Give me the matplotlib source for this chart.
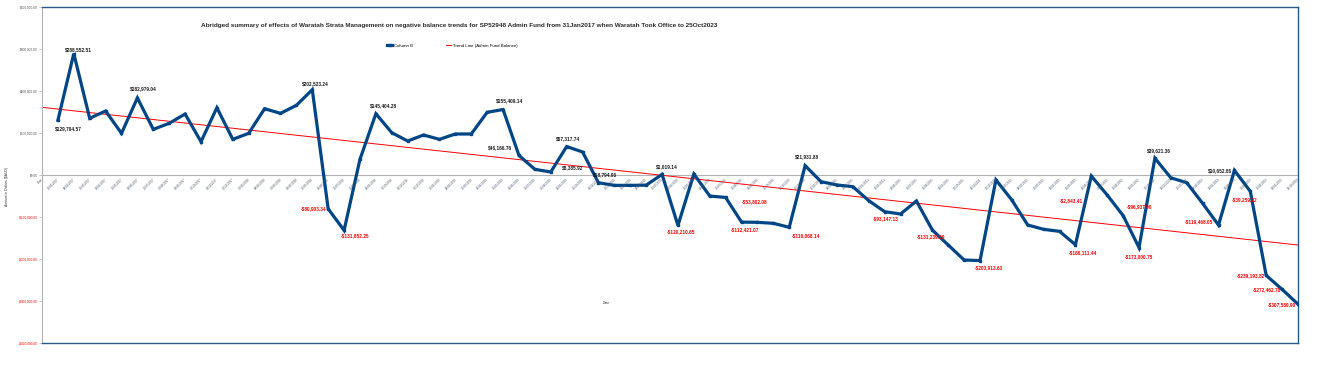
import matplotlib
matplotlib.use("Agg")
import matplotlib.pyplot as plt
from matplotlib.lines import Line2D

plt.rcParams['font.family'] = ['Liberation Sans', 'DejaVu Sans']

title = ("Abridged summary of effects of Waratah Strata Management on negative balance trends "
         "for SP52948 Admin Fund from 31Jan2017 when Waratah Took Office to 25Oct2023")

dates = [
    "31/01/2017", "28/02/2017", "31/03/2017", "30/04/2017", "31/05/2017", "30/06/2017",
    "31/07/2017", "31/08/2017", "30/09/2017", "31/10/2017", "30/11/2017", "31/12/2017",
    "31/01/2018", "28/02/2018", "31/03/2018", "30/04/2018", "31/05/2018", "30/06/2018",
    "31/07/2018", "31/08/2018", "30/09/2018", "31/10/2018", "30/11/2018", "31/12/2018",
    "31/01/2019", "28/02/2019", "31/03/2019", "30/04/2019", "31/05/2019", "30/06/2019",
    "31/07/2019", "31/08/2019", "30/09/2019", "31/10/2019", "30/11/2019", "31/12/2019",
    "31/01/2020", "29/02/2020", "31/03/2020", "30/04/2020", "31/05/2020", "30/06/2020",
    "31/07/2020", "31/08/2020", "30/09/2020", "31/10/2020", "30/11/2020", "31/12/2020",
    "31/01/2021", "28/02/2021", "31/03/2021", "30/04/2021", "31/05/2021", "30/06/2021",
    "31/07/2021", "31/08/2021", "30/09/2021", "31/10/2021", "30/11/2021", "31/12/2021",
    "31/01/2022", "28/02/2022", "31/03/2022", "30/04/2022", "31/05/2022", "30/06/2022",
    "31/07/2022", "31/08/2022", "30/09/2022", "31/10/2022", "30/11/2022", "31/12/2022",
    "28/02/2023", "30/04/2023", "30/06/2023", "31/07/2023", "31/08/2023", "30/09/2023",
    "25/10/2023",
]

balance = [
    129704.57, 288552.51, 134500, 151900, 98800, 182979.04, 108300, 122600, 144700, 78900,
    159700, 84500, 98800, 157400, 146300, 165400, 202523.24, -80903.34, -131852.25, 37000,
    145404.28, 100300, 80500, 94800, 84500, 97200, 97200, 148800, 155409.14, 46166.76,
    13200, 6800, 67317.74, 54400, -18794.96, -25000, -25000, -24500, 1019.14, -120210.65,
    2000, -50300, -53802.08, -112421.07, -112900, -115300, -124800, 21931.88, -16200, -24100,
    -28100, -61400, -87600, -93147.13, -62200, -131239.59, -166900, -202600, -203913.63, -12000,
    -59800, -119300, -129600, -134400, -166111.44, -2843.41, -48000, -96937.00, -173000.75, 39621.36,
    -7000, -18600, -67800, -119468.05, 10652.86, -39259.22, -239193.82, -272462.78, -307580.90,
]

trend_start = 160600
trend_end = -166900

y_ticks = [-400000, -300000, -200000, -100000, 0, 100000, 200000, 300000, 400000]

# data labels: (point number, text)
label_points = [1, 2, 6, 17, 18, 19, 21, 29, 30, 33, 34, 35, 39, 40, 43, 44, 47, 48, 54, 56,
                59, 65, 66, 68, 69, 70, 74, 75, 76, 77, 78, 79]
label_texts = ["$129,704.57", "$288,552.51", "$182,979.04", "$202,523.24", "-$80,903.34",
               "-$131,852.25", "$145,404.28", "$155,409.14", "$46,166.76", "$67,317.74",
               "$8,385.92", "$18,794.96", "$1,019.14", "-$120,210.65", "-$53,802.08",
               "-$112,421.07", "-$116,068.14", "$21,931.88", "-$93,147.13", "-$131,239.59",
               "-$203,913.63", "-$166,111.44", "-$2,843.41", "-$96,937.00", "-$173,000.75",
               "$39,621.36", "-$119,468.05", "$10,652.86", "-$39,259.22", "-$239,193.82",
               "-$272,462.78", "-$307,580.90"]
# label offsets in image pixels (dx right, dy down)
label_offsets = [(10, 8), (5, -4), (6, -9), (3, -6), (-15, 0), (11, 5), (8, -8), (6, -9),
                 (-19, -8), (1, -8), (-10, 16), (7, -8), (5, -8), (3, 6), (29, 4), (3, 8),
                 (17, 8), (2, -9), (-15, 5), (-1, 7), (9, 7), (8, 8), (-20, 25), (16, -9),
                 (0, 9), (4, -8), (-20, -3), (-14, 0), (-6, 8), (-15, 0), (-15, 0), (-16, 0)]

W, H = 1317, 380
fig = plt.figure(figsize=(W / 100, H / 100), dpi=100)
ax = fig.add_axes([42 / W, (H - 343) / H, 1256 / W, 336.3 / H])

navy = '#004586'
x = list(range(1, len(balance) + 1))
ax.plot(x, balance, color=navy, lw=2.3, marker='s', ms=1.6, zorder=3, solid_joinstyle='miter')
ax.plot([0, len(balance)], [trend_start, trend_end], color='#ff0000', lw=0.7, zorder=2)
ax.axhline(0, color='#b3b3b3', lw=0.8, zorder=1)

ax.set_xlim(0, len(balance))
ax.set_ylim(-400000, 400000)

for s in ['top', 'right', 'bottom']:
    ax.spines[s].set_color('#2a5a8c')
    ax.spines[s].set_linewidth(1.0)
ax.spines['left'].set_color('#b3b3b3')
ax.spines['left'].set_linewidth(0.8)

ax.set_yticks(y_ticks)
ylabels = []
for v in y_ticks:
    if v < 0:
        ylabels.append("-${:,.2f}".format(-v))
    else:
        ylabels.append("${:,.2f}".format(v))
ax.set_yticklabels(ylabels, fontsize=2.3)
for t, v in zip(ax.get_yticklabels(), y_ticks):
    t.set_color('#ff0000' if v < 0 else '#555555')
ax.tick_params(axis='y', length=2, width=0.5, color='#b3b3b3', pad=1)
ax.set_xticks([])

# category labels along the zero line
cats = ["Date"] + dates
for i, c in enumerate(cats):
    ax.annotate(c, (i, 0), xytext=(-0.5, -2.5), textcoords='offset pixels',
                ha='right', va='top', rotation=45, rotation_mode='anchor',
                fontsize=2.2, color='#4a5a70')

for p, txt, (dx, dy) in zip(label_points, label_texts, label_offsets):
    ax.annotate(txt, (p, balance[p - 1]), xytext=(dx, -dy), textcoords='offset pixels',
                ha='center', va='center', fontsize=3.4, fontweight='bold',
                color='#ff0000' if txt.startswith('-') else '#1a1a1a', zorder=4)

fig.text(459.5 / W, 1 - 26 / H, title, ha='center', va='center', fontsize=4.6,
         fontweight='bold', color='#2b2b2b')
fig.text(7 / W, 1 - 187 / H, "Amount in Dollars ($AUD)", rotation=90, ha='center', va='center',
         fontsize=2.4, color='#333333')
fig.text(606 / W, 1 - 303 / H, "Date", ha='center', va='center', fontsize=2.4, color='#333333')

handles = [Line2D([], [], color=navy, lw=2.3, marker='s', ms=1.6),
           Line2D([], [], color='#ff0000', lw=0.7)]
fig.legend(handles, ["Column B", "Trend Line (Admin Fund Balance)"], loc='center',
           bbox_to_anchor=(452 / W, 1 - 46 / H), ncol=2, frameon=False, fontsize=3.2,
           handlelength=1.2, handletextpad=0.3, columnspacing=7.5)

fig.savefig("out.png", dpi=100)
